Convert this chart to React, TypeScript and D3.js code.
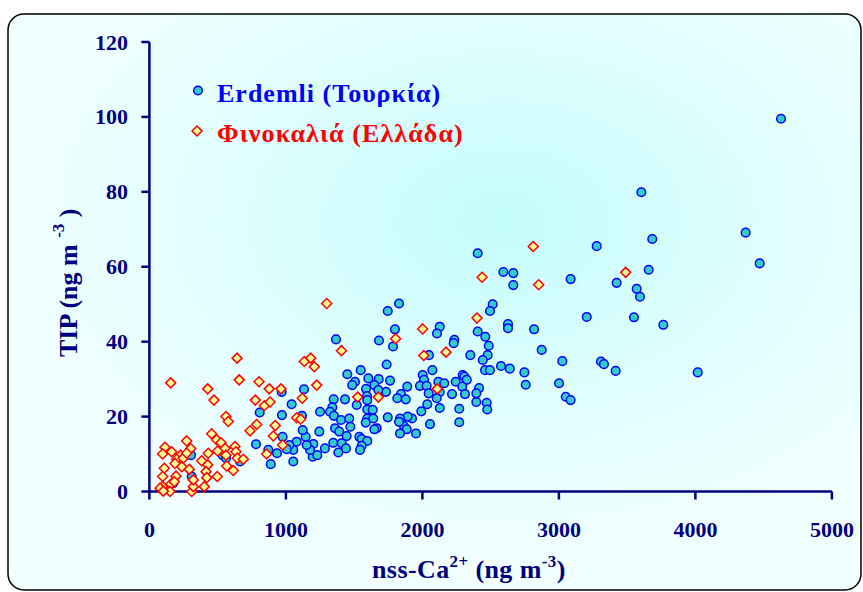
import React from "react";
import * as d3 from "d3";

const erdemliCa = [4627,4368,4471,3604,3684,3658,3423,3570,3594,3550,3765,3277,3086,3204,3308,3330,3416,4017,3025,2874,3001,3050,3086,2405,2593,2666,2666,2515,2495,2627,2627,2818,2405,2461,2486,2478,2442,2576,2640,2459,2495,2747,2757,2415,2395,2471,2475,2351,1829,1746,1799,2127,2107,2234,2229,2048,1682,1785,1367,1738,1450,1548,1604,1506,1486,1680,1763,1648,1587,1733,1677,2002,2073,2012,1982,2031,2117,2160,2244,2295,2307,2325,2292,1889,1843,1816,1878,2046,2127,2105,2217,2312,2395,2036,2127,2270,2270,2056,1992,1924,1892,1836,1865,1829,1885,1953,1836,1746,1594,1519,1596,1596,1636,1596,1640,1585,1665,1648,1433,1350,1340,1250,1323,1352,1404,1464,1360,1391,1472,1445,1538,1555,1596,1555,1543,1347,1409,1440,1384,1286,1245,1201,1196,1230,1177,1152,1145,1123,1079,1054,1054,1025,976,971,1042,1133,969,808,1118,1006,935,871,781,889,305,537,561,664,310,175];
const erdemliTIP = [99.5,69.1,60.9,79.9,67.4,59.2,55.7,54.1,52.0,46.5,44.5,65.5,56.7,46.6,34.7,34.0,32.2,31.8,34.8,37.8,28.9,25.3,24.4,63.6,58.6,58.3,55.1,50.0,48.2,44.7,43.6,43.3,42.7,41.3,38.9,36.4,35.1,33.5,32.8,32.4,32.4,31.8,28.5,27.6,23.9,23.7,21.9,36.4,50.2,48.2,43.3,44.0,42.2,40.5,39.6,36.4,40.3,38.7,40.6,33.9,31.3,32.4,30.2,29.3,28.4,30.0,29.6,28.4,27.4,26.6,27.1,31.1,32.4,29.8,28.2,28.2,29.3,28.9,29.3,31.1,30.7,29.8,28.0,28.0,26.0,24.9,24.6,26.2,26.5,24.9,26.0,26.0,26.2,23.3,22.3,22.1,18.5,18.0,21.4,19.5,20.0,19.5,17.5,18.6,16.6,15.5,15.5,19.8,25.5,23.1,24.4,21.9,21.8,19.5,19.5,18.4,16.9,16.6,24.6,24.6,22.5,21.3,21.3,20.2,19.1,19.5,16.9,16.0,17.3,14.8,14.6,14.0,13.5,12.2,11.1,13.0,12.9,11.5,10.4,11.5,16.0,12.7,9.3,9.7,11.1,12.4,14.6,16.4,13.3,11.1,8.0,12.4,14.6,20.4,23.3,27.3,26.6,21.1,20.2,11.3,10.2,11.1,12.6,7.3,9.7,9.7,8.9,8.0,4.0,2.2];

const finokaliaCa = [3489,2852,2812,2437,2400,2002,1804,2173,2010,2109,1526,1677,1407,1299,1135,1182,1208,1226,1120,964,1079,1108,976,642,156,658,427,803,878,473,776,842,884,561,578,737,786,922,908,859,456,493,525,554,627,431,500,561,634,644,688,273,303,114,97,163,229,200,248,273,188,237,292,383,427,415,566,615,497,420,109,97,195,158,97,151,310,322,402,78,322,182,102];
const finokaliaTIP = [58.5,55.2,65.4,57.2,46.3,43.4,40.8,37.2,36.3,27.4,25.2,25.2,37.6,50.2,34.7,35.6,33.3,28.4,24.9,27.4,19.7,19.3,12.4,35.6,29.0,29.8,27.4,29.3,27.4,24.4,24.4,22.9,23.9,20.0,18.7,16.2,17.9,17.6,14.8,10.0,15.4,13.8,13.0,11.5,12.0,10.2,10.8,9.7,10.6,8.9,8.6,13.5,11.5,11.8,10.0,10.6,9.7,8.6,8.9,10.2,7.5,6.6,5.9,8.2,7.1,5.3,6.8,5.6,4.0,3.7,6.2,4.0,4.1,2.0,1.3,0,0,1.3,1.3,0.9,3.1,2.6,0.1];

const xTicks = [0, 1000, 2000, 3000, 4000, 5000];
const yTicks = [0, 20, 40, 60, 80, 100, 120];
const seriesNames = ["Erdemli (Τουρκία)", "Φινοκαλιά (Ελλάδα)"];

const W = 863, H = 592;
const NAVY = "#000080";
const FONT = "'Liberation Serif', 'Times New Roman', serif";

export default function App() {
  const x = d3.scaleLinear().domain([0, 5000]).range([149.4, 831.9]);
  const y = d3.scaleLinear().domain([0, 120]).range([491.5, 42]);
  const diamond = (cx: number, cy: number, r: number) =>
    `M${cx},${cy - r}L${cx + r},${cy}L${cx},${cy + r}L${cx - r},${cy}Z`;

  return (
    <svg width={W} height={H} style={{ position: "absolute", left: 0, top: 0 }}>
      <defs>
        <radialGradient id="bg" cx="0.58" cy="0.36" r="0.62">
          <stop offset="0" stopColor="#C4FCFC" />
          <stop offset="0.55" stopColor="#E2FEFE" />
          <stop offset="1" stopColor="#F2FFFF" />
        </radialGradient>
      </defs>
      <rect width={W} height={H} fill="#fff" />
      <rect x={8} y={14} width={853} height={576} rx={16} ry={16} fill="url(#bg)" stroke="#000" strokeWidth={1.5} />

      {/* axes */}
      <line x1={x(0)} x2={x(5000)} y1={y(0)} y2={y(0)} stroke={NAVY} strokeWidth={2.5} />
      <line x1={x(0)} x2={x(0)} y1={y(0)} y2={y(120)} stroke={NAVY} strokeWidth={2.5} />
      {xTicks.map((t) => (
        <g key={"x" + t}>
          <line x1={x(t)} x2={x(t)} y1={y(0)} y2={y(0) + 8} stroke={NAVY} strokeWidth={2.5} />
          <text x={x(t)} y={536.5} textAnchor="middle" fontFamily={FONT} fontWeight="bold" fontSize={22} fill={NAVY}>{t}</text>
        </g>
      ))}
      {yTicks.map((t) => (
        <g key={"y" + t}>
          <line x1={x(0) - 8} x2={x(0)} y1={y(t)} y2={y(t)} stroke={NAVY} strokeWidth={2.5} />
          <text x={128} y={y(t) + 7.5} textAnchor="end" fontFamily={FONT} fontWeight="bold" fontSize={22} fill={NAVY}>{t}</text>
        </g>
      ))}

      {/* axis titles */}
      <text x={372} y={578} fontFamily={FONT} fontWeight="bold" fontSize={26} fill={NAVY} letterSpacing={0.4}>
        nss-Ca<tspan dy={-11} fontSize={17}>2+</tspan><tspan dy={11}> (ng m</tspan><tspan dy={-11} fontSize={17}>-3</tspan><tspan dy={11}>)</tspan>
      </text>
      <text transform="translate(76.5,357) rotate(-90)" fontFamily={FONT} fontWeight="bold" fontSize={26} fill={NAVY}>
        TIP (ng m <tspan dy={-13} fontSize={17}>-3</tspan><tspan dy={13}> )</tspan>
      </text>

      {/* Erdemli */}
      {erdemliCa.map((v, i) => (
        <circle key={"e" + i} cx={x(v)} cy={y(erdemliTIP[i])} r={4.3} fill="#33CCCC" stroke="#0000FF" strokeWidth={1.5} />
      ))}
      {/* Finokalia */}
      {finokaliaCa.map((v, i) => (
        <path key={"f" + i} d={diamond(x(v), y(finokaliaTIP[i]), 5)} fill="#FFFF99" stroke="#FF0000" strokeWidth={1.5} />
      ))}

      {/* legend */}
      <circle cx={198} cy={90.5} r={4.3} fill="#33CCCC" stroke="#0000FF" strokeWidth={1.5} />
      <text x={217} y={101.5} fontFamily={FONT} fontWeight="bold" fontSize={26} fill="#0000FF" letterSpacing={1}>{seriesNames[0]}</text>
      <path d={diamond(197, 131, 5)} fill="#FFFF99" stroke="#FF0000" strokeWidth={1.5} />
      <text x={217} y={141.5} fontFamily={FONT} fontWeight="bold" fontSize={26} fill="#FF0000" letterSpacing={1.1}>{seriesNames[1]}</text>
    </svg>
  );
}
